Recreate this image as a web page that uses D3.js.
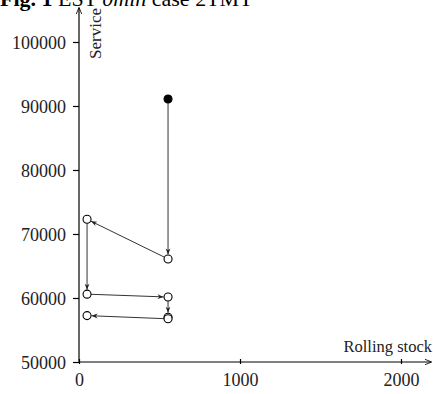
<!DOCTYPE html>
<html>
<head>
<meta charset="utf-8">
<script src="https://cdn.jsdelivr.net/npm/d3@7"></script>
<style>
  html, body { margin: 0; padding: 0; background: #fff; }
  svg { display: block; font-family: "Liberation Serif", "DejaVu Serif", serif; }
</style>
</head>
<body>
<svg id="chart" width="433" height="394"></svg>
<script>
// Trajectory of the solution: rolling stock vs. service, step by step
const rollingStock = [553, 553, 50, 50, 553, 553, 553, 50];
const service = [91100, 66100, 72300, 60600, 60150, 57000, 56750, 57250];
const xTicks = [0, 1000, 2000];
const yTicks = [50000, 60000, 70000, 80000, 90000, 100000];

const svg = d3.select("#chart");

const x = d3.scaleLinear().domain([0, 1000]).range([79, 240]);
const y = d3.scaleLinear().domain([50000, 60000]).range([362, 298]);

const x0 = x(0), y0 = y(50000);
const xEnd = 431, yTop = 8;

// Markers
const defs = svg.append("defs");
defs.append("marker")
  .attr("id", "axisArrow")
  .attr("viewBox", "0 0 10 10")
  .attr("refX", 9).attr("refY", 5)
  .attr("markerWidth", 7).attr("markerHeight", 7)
  .attr("markerUnits", "userSpaceOnUse")
  .attr("orient", "auto")
  .append("path")
  .attr("d", "M0,1 L10,5 L0,9")
  .attr("fill", "none").attr("stroke", "#000").attr("stroke-width", 1.2);

defs.append("marker")
  .attr("id", "stepArrow")
  .attr("viewBox", "0 0 10 10")
  .attr("refX", 10).attr("refY", 5)
  .attr("markerWidth", 7).attr("markerHeight", 6)
  .attr("markerUnits", "userSpaceOnUse")
  .attr("orient", "auto")
  .append("path")
  .attr("d", "M0,1 L10,5 L0,9 L3,5 Z")
  .attr("fill", "#222");

// Title (sits partly above the top edge of the figure)
const title = svg.append("text")
  .attr("x", 0).attr("y", 6)
  .attr("font-size", 22).attr("fill", "#000");
title.append("tspan").attr("font-weight", "bold").text("Fig. 1");
title.append("tspan").text(" EST ");
title.append("tspan").attr("font-style", "italic").text("0min");
title.append("tspan").text(" case 2TMT");

// Axes lines with arrowheads
svg.append("line")
  .attr("x1", x0).attr("y1", y0).attr("x2", xEnd).attr("y2", y0)
  .attr("stroke", "#000").attr("stroke-width", 1.2)
  .attr("marker-end", "url(#axisArrow)");
svg.append("line")
  .attr("x1", x0).attr("y1", y0).attr("x2", x0).attr("y2", yTop)
  .attr("stroke", "#000").attr("stroke-width", 1.2)
  .attr("marker-end", "url(#axisArrow)");

// X axis ticks
const xAxis = d3.axisBottom(x).tickValues(xTicks).tickSize(5).tickPadding(4)
  .tickFormat(d3.format("d"));
const gx = svg.append("g").attr("transform", `translate(0,${y0 + 1})`).call(xAxis);
gx.select(".domain").remove();
gx.selectAll(".tick line").attr("transform", "translate(0,-4)").attr("stroke-width", 1.2);
gx.selectAll(".tick text")
  .attr("font-family", "Liberation Serif, serif")
  .attr("font-size", 18).attr("fill", "#222").attr("dy", "0.78em");

// Y axis ticks
const yAxis = d3.axisLeft(y).tickValues(yTicks).tickSize(6).tickPadding(7)
  .tickFormat(d3.format("d"));
const gy = svg.append("g").attr("transform", `translate(${x0},0)`).call(yAxis);
gy.select(".domain").remove();
gy.selectAll(".tick line").attr("stroke-width", 1.2);
gy.selectAll(".tick text")
  .attr("font-family", "Liberation Serif, serif")
  .attr("font-size", 18).attr("fill", "#222").attr("dy", "0.35em");

// Axis labels
svg.append("text")
  .attr("transform", `translate(101,59) rotate(-90)`)
  .attr("text-anchor", "start")
  .attr("font-size", 17).attr("fill", "#222")
  .text("Service");
svg.append("text")
  .attr("x", 432).attr("y", 352)
  .attr("text-anchor", "end")
  .attr("font-size", 16.5).attr("fill", "#222")
  .text("Rolling stock");

// Step arrows between consecutive states
const pts = rollingStock.map((r, i) => ({ px: x(r), py: y(service[i]) }));
const R = 4;
const segs = d3.pairs(pts).map(([a, b]) => {
  const d = Math.hypot(b.px - a.px, b.py - a.py) || 1;
  const ux = (b.px - a.px) / d, uy = (b.py - a.py) / d;
  return {
    x1: a.px + ux * R, y1: a.py + uy * R,
    x2: b.px - ux * (R + 0.5), y2: b.py - uy * (R + 0.5),
    len: d
  };
});
svg.append("g").selectAll("line").data(segs).join("line")
  .attr("x1", s => s.x1).attr("y1", s => s.y1)
  .attr("x2", s => s.x2).attr("y2", s => s.y2)
  .attr("stroke", "#333").attr("stroke-width", 1)
  .attr("marker-end", s => s.len > 10 ? "url(#stepArrow)" : null);

// State points: first one filled
svg.append("g").selectAll("circle").data(pts).join("circle")
  .attr("cx", d => d.px).attr("cy", d => d.py).attr("r", R)
  .attr("fill", (d, i) => i === 0 ? "#000" : "#fff")
  .attr("stroke", "#000").attr("stroke-width", 1.1);
</script>
</body>
</html>
